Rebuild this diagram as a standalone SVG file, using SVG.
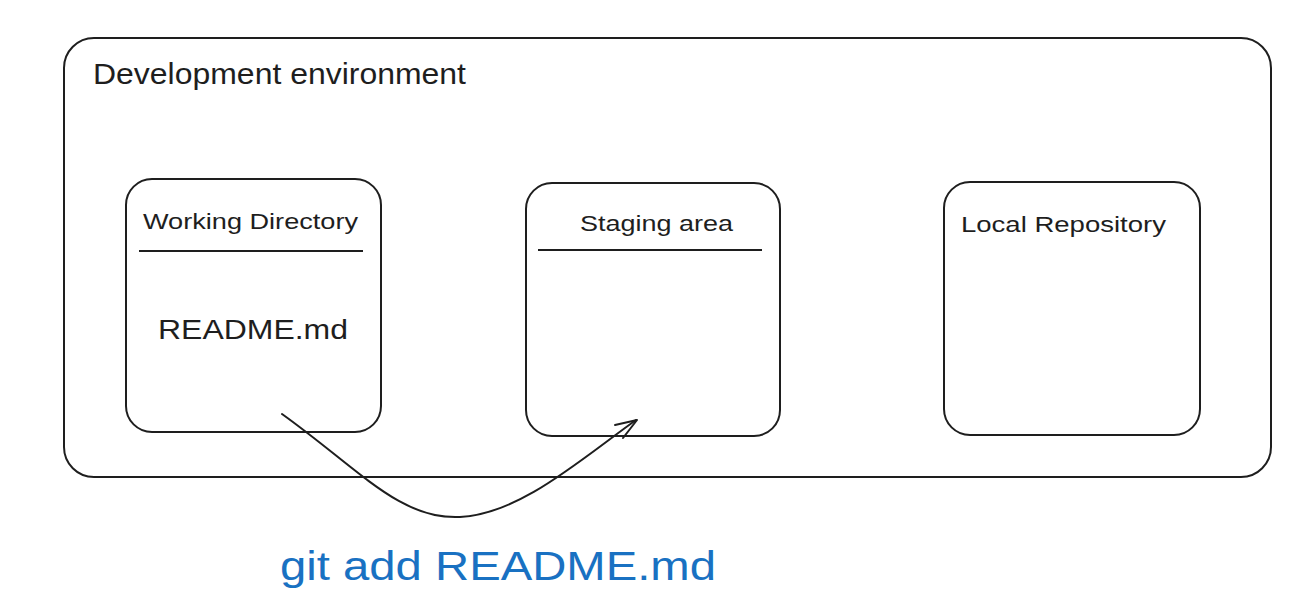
<svg xmlns="http://www.w3.org/2000/svg" width="1316" height="608" viewBox="0 0 1316 608">
<style>
.box{fill:none;stroke:#1e1e1e;stroke-width:2}
.t{font-family:"Liberation Sans",Arial,sans-serif;fill:#1e1e1e}
.line{stroke:#1e1e1e;stroke-width:2}
.conn{fill:none;stroke:#1e1e1e;stroke-width:2;stroke-linecap:round;stroke-linejoin:round}
</style>
<rect width="1316" height="608" fill="#ffffff"/>
<g id="dev-env">
<rect class="box" x="64" y="38" width="1207" height="439" rx="30"/>
<text class="t" x="93" y="84" font-size="29" textLength="373" lengthAdjust="spacingAndGlyphs">Development environment</text>
</g>
<g id="working-directory">
<rect class="box" x="126" y="179" width="255" height="253" rx="26"/>
<text class="t" x="143" y="229" font-size="22" textLength="215" lengthAdjust="spacingAndGlyphs">Working Directory</text>
<line class="line" x1="139" y1="251" x2="363" y2="251"/>
<text class="t" x="158" y="339" font-size="28" textLength="190" lengthAdjust="spacingAndGlyphs">README.md</text>
</g>
<g id="staging-area">
<rect class="box" x="526" y="183" width="254" height="253" rx="26"/>
<text class="t" x="580" y="231" font-size="22" textLength="153" lengthAdjust="spacingAndGlyphs">Staging area</text>
<line class="line" x1="538" y1="250" x2="762" y2="250"/>
</g>
<g id="local-repository">
<rect class="box" x="944" y="182" width="256" height="253" rx="26"/>
<text class="t" x="961" y="232" font-size="22" textLength="205" lengthAdjust="spacingAndGlyphs">Local Repository</text>
</g>
<g id="connectors">
<path class="conn" d="M282,414 C360,470 400,520 460,517 C520,514 580,460 636,420"/>
<path class="conn" d="M615,425 L637,420 L623,438"/>
</g>
<g id="label-git-add">
<text x="280" y="580" font-size="40" font-family="'Liberation Sans',Arial,sans-serif" fill="#1971c2" textLength="436" lengthAdjust="spacingAndGlyphs">git add README.md</text>
</g>
</svg>
